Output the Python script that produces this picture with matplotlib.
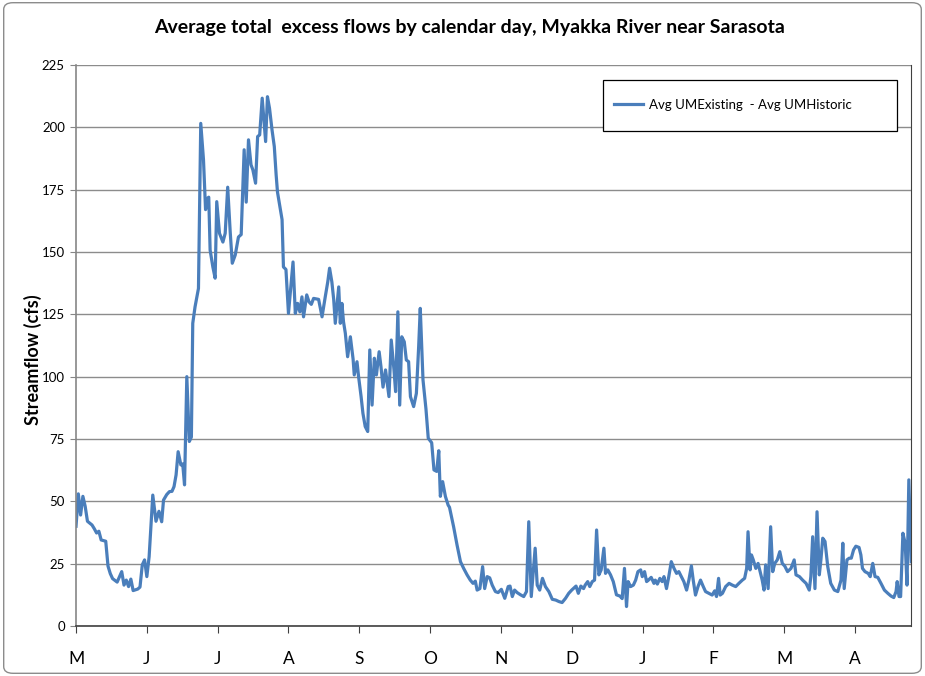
import matplotlib
matplotlib.use("Agg")
import matplotlib.pyplot as plt
from matplotlib.patches import FancyBboxPatch, Rectangle

# calendar day index (0 = May 1) and flow difference (cfs)
day = [0, 1, 2, 3, 4, 5, 7, 8, 9, 10, 11, 13, 14, 15, 16, 18, 20, 21, 22, 23,
       24, 25, 27, 28, 29, 30, 31, 32, 33.6, 35, 36.3, 37.5, 38.3, 39.7, 40.9, 42, 42.9, 43.8, 44.7, 45.9,
       46.7, 47.5, 48.5, 49.6, 50.5, 51.1, 52.1, 53.6, 54.6, 55.8, 56.7, 57.5, 58.1, 58.7, 59.9, 60.9, 61.6, 62.8, 64.3, 65.3,
       66.4, 67.5, 68.4, 69.7, 71.1, 72.3, 73.6, 74.5, 75.5, 76.6, 77.4, 78.6, 79.5, 80.4, 81.5, 82.4, 83, 83.8, 84.7, 85.8,
       86.8, 87.6, 88.2, 89.1, 90.2, 90.8, 91.9, 93, 94.1, 95, 96, 97, 98, 98.9, 99.6, 101, 102, 103, 104, 106.2,
       107.7, 109.1, 110.2, 111, 112, 112.8, 113.5, 115, 115.7, 116.4, 117.1, 117.9, 118.9, 120.1, 121.3, 121.8, 123, 123.7, 124.8, 125.6,
       126.6, 127.7, 128.6, 129.6, 130.6, 131.5, 132.7, 133.5, 134.4, 135.5, 137, 138, 139.2, 139.9, 140.9, 141.7, 142.6, 143.7, 144.6, 145.6,
       146.4, 147.8, 149, 150, 150.7, 151.9, 153.2, 154.2, 155.7, 156.7, 157.9, 158.8, 159.5, 160.5, 161.7, 162.9, 163.5, 165.3, 166.8, 168.3,
       169.7, 171.2, 172.6, 173.8, 174.8, 175.6, 176.8, 178, 178.9, 180, 181.1, 182.2, 183.6, 184.8, 186.2, 187.7, 189.2, 190, 191, 192,
       193.1, 194.6, 196, 197.2, 198.2, 199.3, 200.1, 201, 201.9, 203, 204.2, 205.5, 207, 208.5, 210, 211.4, 212.8, 214.3, 215.7, 217,
       217.7, 218.9, 219.9, 221, 222.2, 222.9, 224, 224.9, 226, 227, 227.9, 228.9, 229.9, 231.1, 231.8, 232.8, 234, 235.2, 236.6, 238.1,
       239.1, 240.1, 241, 241.7, 242.8, 244, 245, 246, 247.2, 247.9, 248.9, 249.8, 250.6, 251.8, 253, 253.6, 254.5, 255.6, 256.6, 257.4,
       258.5, 259.5, 260.6, 261.8, 262.9, 263.9, 265, 266.1, 267.3, 268.3, 269.4, 270.2, 271.2, 272.3, 273.4, 274.6, 275.6, 277.1, 278.5, 279.6,
       280.4, 281.3, 282, 283, 284.4, 285.9, 287.3, 288.8, 290.2, 291.7, 292.7, 293.6, 294.2, 295.1, 295.7, 296.5, 297.6, 298.6, 299.7, 300.4,
       301.2, 301.9, 303, 304.1, 305, 305.9, 307, 308.1, 309.2, 310.3, 311.5, 313, 314.4, 315.2, 316.7, 318.1, 319.6, 321, 321.7, 322.5,
       323.5, 324.4, 325.4, 326.1, 326.9, 327.9, 329.1, 330.4, 332, 333.5, 334.9, 335.7, 336.3, 337.5, 338.5, 339.4, 340.4, 341.4, 342.8, 343.6,
       344.3, 345.4, 346.8, 347.7, 348.8, 349.8, 351, 352.4, 353.9, 355.4, 356.8, 358, 359, 359.5, 360.3, 361, 362, 363, 363.8, 364.6,
       365.6]
flow = [40, 53, 44.5, 52, 48, 42, 40.5, 39, 37.3, 38, 34.5, 34, 24, 21, 19, 17.6, 21.8, 16.4, 18.4, 15.8,
        18.8, 14.2, 14.8, 15.6, 24.5, 26.5, 19.8, 27.8, 52.5, 42, 46, 41.8, 50.5, 52.7, 53.9, 54, 55.9, 60.6, 69.9, 64.6,
        65, 56.6, 100, 74, 75.8, 121.4, 128, 135.4, 201.6, 187, 167, 171.5, 172, 150.8, 144, 139.5, 170.2, 157.5, 154, 157.5,
        176, 158, 145.5, 148.8, 156, 157, 191, 170, 195, 185, 183, 177.6, 196.3, 197, 211.7, 201, 194.3, 212.3, 207.7, 199,
        192.3, 181, 174, 169, 163, 144, 143, 125.4, 136.8, 146, 125.4, 129.4, 126, 132, 124, 132.8, 130, 129, 131.4, 131,
        124, 132, 138, 143.5, 138, 131, 121.4, 136, 121.4, 129.4, 122, 117.4, 108, 116, 107, 100.7, 106, 100, 92, 85.3,
        80, 78, 110.7, 88.6, 107.4, 100.7, 110, 104, 95.8, 102.7, 92, 114.7, 102.7, 94, 126, 88.6, 116, 114, 106.7, 106,
        92, 88, 93.3, 112, 127.4, 98.7, 87, 75.3, 73.5, 62.6, 62, 70.3, 52, 57.9, 52, 48.5, 47.6, 39.8, 32.5, 25.8,
        23.1, 20.5, 18.4, 17.1, 18, 14.4, 15, 23.8, 15, 19.8, 19.3, 16.4, 13.8, 13.4, 14.7, 11.1, 15.8, 16, 11.8, 14.4,
        13.4, 12.5, 11.8, 13.8, 41.8, 11.8, 21.1, 31.2, 16.4, 14.4, 19.1, 15.8, 13.8, 10.7, 10.4, 9.8, 9.4, 11.1, 13.1, 14.4,
        15, 16, 13.1, 16, 15, 16.4, 17.8, 15.8, 17.8, 18.4, 38.5, 20.5, 22.5, 31.2, 21.1, 22.5, 20.5, 17.8, 12.5, 12,
        11, 23.1, 7.8, 17.8, 15.8, 16.4, 18.4, 21.8, 22.5, 19.8, 21.8, 17.8, 18.4, 19.5, 17.1, 18.4, 16.8, 19.1, 17.8, 19.8,
        15, 19.8, 25.8, 23.1, 21.1, 21.8, 19.8, 17.8, 14.4, 18.4, 24.1, 18.4, 12.4, 15.8, 18.4, 15.8, 13.8, 13.1, 12.4, 14.1,
        11.8, 19.1, 12.4, 13.1, 15.8, 17.1, 16.4, 15.8, 17.1, 18.4, 19.1, 23.1, 37.8, 22.5, 28.5, 26.5, 23.1, 25.1, 21.1, 18.4,
        14.4, 24.5, 15, 39.8, 21.8, 25.1, 26.5, 29.8, 25.1, 24, 21.8, 23.1, 26.5, 20.5, 19.8, 18.4, 17.1, 14.4, 19.8, 35.8,
        15, 45.8, 20.5, 26.5, 35.2, 33.9, 23.8, 17.1, 14.4, 13.8, 18.4, 33.2, 15, 26.5, 27.2, 27.2, 30.5, 32, 31.5, 28.5,
        23.1, 21.8, 21.1, 19.8, 25.1, 19.8, 19.5, 17.1, 14.4, 13.1, 12, 11.4, 13.8, 17.8, 11.8, 11.8, 37.2, 33.2, 16.4, 58.6,
        25.8]

tick_days = [0, 31, 62, 93, 124, 155, 186, 217, 248, 279, 310, 341]
month_labels = ["M", "J", "J", "A", "S", "O", "N", "D", "J", "F", "M", "A"]
y_ticks = list(range(0, 226, 25))

plt.rcParams['font.family'] = ['Lato', 'DejaVu Sans']

fig = plt.figure(figsize=(9.25, 6.76), dpi=100)
ax = fig.add_axes([0.0822, 0.074, 0.9028, 0.8298])

# outer frame of the chart
fig.patches.append(FancyBboxPatch((0.004, 0.004), 0.992, 0.992, boxstyle="round,pad=0,rounding_size=0.01",
                                  transform=fig.transFigure, fill=False, edgecolor="#8c8c8c", linewidth=1))

ax.plot(day, flow, color="#4a7ebb", linewidth=2.3, label="Avg UMExisting  - Avg UMHistoric")

ax.set_xlim(0, 365.6)
ax.set_ylim(0, 225)
ax.set_yticks(y_ticks)
ax.set_xticks(tick_days)
ax.set_xticklabels(month_labels, fontsize=12.5)
ax.tick_params(axis="y", labelsize=9.5, length=4, color="#868686", pad=4)
ax.tick_params(axis="x", length=5, color="#404040", pad=13)
ax.yaxis.grid(True, color="#8c8c8c", linewidth=1)
ax.set_axisbelow(True)

ax.spines["top"].set_visible(False)
ax.spines["left"].set_color("#868686")
ax.spines["bottom"].set_color("#404040")
ax.spines["right"].set_color("#404040")
ax.spines["left"].set_linewidth(1.2)
ax.spines["bottom"].set_linewidth(1.2)

ax.set_ylabel("Streamflow (cfs)", fontsize=13, fontweight="bold")
ax.yaxis.set_label_coords(-0.041, 0.474)
fig.suptitle("Average total  excess flows by calendar day, Myakka River near Sarasota",
             fontsize=14, fontweight="bold", x=0.508, y=0.9586, va="center")

# legend box
ax.add_patch(Rectangle((0.631, 0.882), 0.352, 0.091, transform=ax.transAxes, fill=True,
                       facecolor="white", edgecolor="black", linewidth=0.9, zorder=4))
leg = ax.legend(loc="center left", bbox_to_anchor=(0.644, 0.929), fontsize=9.5, frameon=False,
                borderpad=0, borderaxespad=0, handlelength=2.2, handletextpad=0.45)
leg.set_zorder(5)

fig.savefig("out.png", dpi=100)
